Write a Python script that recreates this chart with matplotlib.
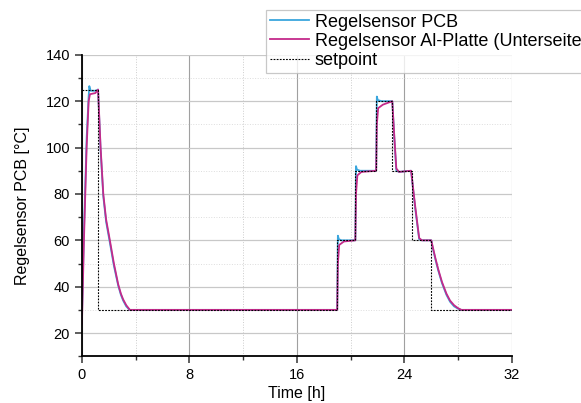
import numpy as np
import matplotlib.pyplot as plt
from matplotlib.ticker import MultipleLocator

plt.rcParams['font.family'] = ['Liberation Sans', 'DejaVu Sans']

# setpoint steps
t_set = [0, 1.2, 1.2, 19.0, 19.0, 20.35, 20.35, 21.9, 21.9, 23.07, 23.07,
         24.55, 24.55, 26.0, 26.0, 32]
v_set = [125, 125, 30, 30, 60, 60, 90, 90, 120, 120, 90, 90, 60, 60, 30, 30]

# Regelsensor Al-Platte (Unterseite)
t_al = [0, 0.15, 0.35, 0.5, 0.6, 1.0, 1.2, 1.3, 1.39, 1.5, 1.59, 1.8, 2.08, 2.38,
        2.7, 2.9, 3.07, 3.3, 3.57,
        19.0, 19.05, 19.15, 19.5, 20.35, 20.4, 20.5, 20.8, 21.9, 21.95, 22.05, 22.4,
        23.1, 23.25, 23.4, 23.6, 24.5, 24.8, 25.1, 25.3, 26.0, 26.1, 26.3, 26.52,
        26.8, 27.13, 27.4, 27.7, 28.0, 28.25, 32]
v_al = [24, 60, 100, 120, 123, 123.5, 125, 112, 100, 89, 80, 69, 60, 50,
        41, 37, 34.5, 32, 30,
        30, 50, 58, 59.5, 60, 80, 88, 89.5, 90, 110, 117, 118.5,
        120, 105, 91, 89.5, 90, 75, 61, 60, 60, 57.5, 52.5, 47.5,
        42, 37, 34, 32, 30.7, 30, 30]

# Regelsensor PCB
t_pcb = [0, 0.15, 0.35, 0.5, 0.55, 0.65, 1.0, 1.2, 1.3, 1.39, 1.5, 1.59, 1.8, 2.08,
         2.38, 2.7, 2.9, 3.07, 3.3, 3.55,
         19.0, 19.05, 19.12, 19.3, 20.35, 20.4, 20.47, 20.7, 21.9, 21.95, 22.02, 22.3,
         23.1, 23.25, 23.4, 23.6, 24.5, 24.8, 25.1, 25.3, 26.0, 26.1, 26.3, 26.52,
         26.8, 27.13, 27.4, 27.7, 28.0, 28.2, 32]
v_pcb = [27, 64, 104, 122, 126.5, 124.5, 124.5, 125, 111, 99, 88, 79, 68, 59,
         49, 40.5, 36.5, 34, 31.5, 30,
         30, 62, 60.5, 60, 60, 92, 90.5, 90, 90, 122, 120.5, 120,
         120, 104, 90, 89.5, 90, 74, 60.5, 60, 60, 57, 52, 47,
         41.5, 36.5, 33.5, 31.5, 30.5, 30, 30]

fig = plt.figure(figsize=(5.81, 4.03), dpi=100)
ax = fig.add_axes([0.141, 0.116, 0.74, 0.748])

ax.plot(t_pcb, v_pcb, color='#3aa6dd', lw=1.3, label='Regelsensor PCB')
ax.plot(t_al, v_al, color='#c42a8a', lw=1.3, label='Regelsensor Al-Platte (Unterseite)')
ax.plot(t_set, v_set, color='black', lw=0.8, ls=(0, (1.6, 1.2)), label='setpoint')

ax.set_xlim(0, 32)
ax.set_ylim(10, 140)
ax.xaxis.set_major_locator(MultipleLocator(8))
ax.xaxis.set_minor_locator(MultipleLocator(4))
ax.yaxis.set_major_locator(MultipleLocator(20))
ax.yaxis.set_minor_locator(MultipleLocator(10))
ax.set_yticks([20, 40, 60, 80, 100, 120, 140])

ax.grid(which='major', axis='y', color='#c8c8c8', lw=0.9)
ax.grid(which='minor', axis='y', color='#dddddd', lw=0.7, ls=':')
ax.grid(which='major', axis='x', color='#a0a0a0', lw=0.8)
ax.grid(which='minor', axis='x', color='#cccccc', lw=0.7, ls=':')
ax.set_axisbelow(True)

for s in ['top', 'right']:
    ax.spines[s].set_visible(False)
for s in ['left', 'bottom']:
    ax.spines[s].set_linewidth(1.3)

ax.tick_params(which='major', direction='out', length=5, width=1.1, labelsize=10.5, color='#333333')
ax.tick_params(which='minor', direction='out', length=3, width=1.0, color='#333333')

ax.set_xlabel('Time [h]', fontsize=11.5, labelpad=3)
ax.set_ylabel('Regelsensor PCB [°C]', fontsize=11.5, labelpad=11)

leg = fig.legend(loc='upper left', bbox_to_anchor=(266 / 581, 1 - 10 / 403), fontsize=13,
                 frameon=True, fancybox=False, handlelength=2.2, handletextpad=0.3,
                 borderpad=0.2, labelspacing=0.12, borderaxespad=0)
leg.get_frame().set_edgecolor('#bbbbbb')
leg.get_frame().set_linewidth(0.9)

fig.savefig('out.png', dpi=100)
